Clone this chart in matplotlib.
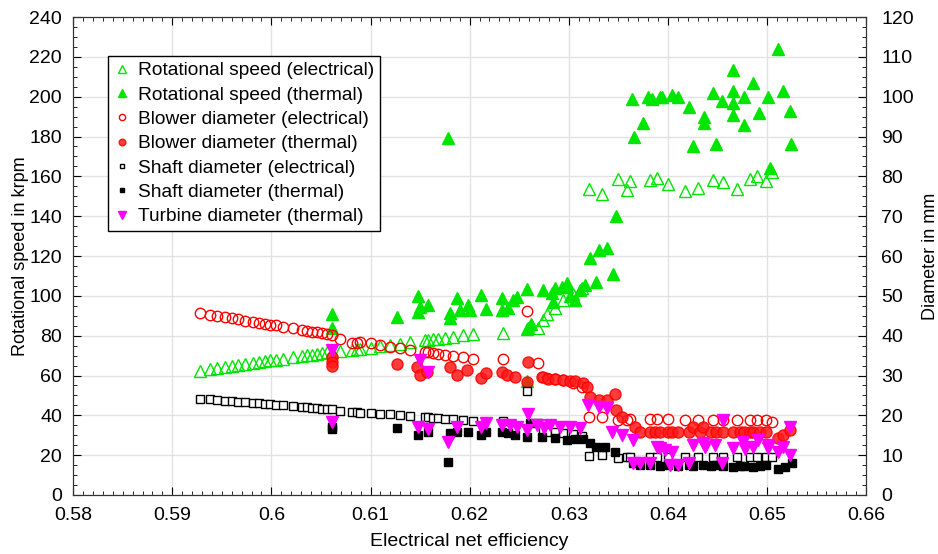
import matplotlib
matplotlib.use('Agg')
import matplotlib.pyplot as plt
from matplotlib.ticker import MultipleLocator, FuncFormatter

plt.rcParams['font.family'] = ['Liberation Sans', 'DejaVu Sans']
plt.rcParams['font.size'] = 14

# electrical design points (x = electrical net efficiency)
eff_el = [0.5928, 0.5938, 0.5945, 0.5953, 0.5960, 0.5966, 0.5973, 0.5981, 0.5987, 0.5994,
          0.5999, 0.6005, 0.6012, 0.6022, 0.6031, 0.6036, 0.6041, 0.6046, 0.6051, 0.6056,
          0.6061, 0.6069, 0.6081, 0.6086, 0.6089, 0.6100, 0.6110, 0.6120, 0.6130, 0.6140,
          0.6155, 0.6158, 0.6163, 0.6168, 0.6175, 0.6183, 0.6193, 0.6203, 0.6234, 0.6258,
          0.6269, 0.6274, 0.6278, 0.6286, 0.6294, 0.6304, 0.6313, 0.6320, 0.6334, 0.6350,
          0.6359, 0.6362, 0.6382, 0.6389, 0.6400, 0.6417, 0.6430, 0.6445, 0.6456, 0.6470,
          0.6483, 0.6490, 0.6499, 0.6505]
speed_el = [62.5, 63.3, 63.8, 64.4, 64.9, 65.3, 65.8, 66.3, 66.7, 67.2,
            67.6, 68.0, 68.5, 69.2, 69.8, 70.2, 70.5, 70.9, 71.2, 71.6,
            71.9, 72.5, 73.0, 73.3, 73.4, 73.9, 74.6, 75.3, 75.9, 76.6,
            77.6, 77.8, 78.2, 78.5, 79.0, 79.5, 80.2, 81.0, 81.4, 83.5,
            84.0, 88.0, 91.0, 94.0, 98.0, 101.0, 104.0, 153.6, 151.0, 158.5,
            153.0, 157.7, 158.0, 159.0, 156.0, 152.7, 154.0, 158.0, 157.0, 153.7,
            158.7, 160.0, 157.5, 162.0]
blower_el = [45.7, 45.3, 45.0, 44.7, 44.4, 44.1, 43.8, 43.5, 43.3, 43.0,
             42.8, 42.6, 42.3, 41.8, 41.5, 41.2, 41.0, 40.8, 40.6, 40.4,
             40.2, 39.2, 38.2, 38.2, 38.3, 38.2, 37.6, 37.2, 36.9, 36.4,
             35.9, 35.8, 35.6, 35.4, 35.2, 35.0, 34.7, 34.2, 34.2, 46.2,
             33.1, 29.7, 29.4, 29.2, 28.9, 28.1, 27.1, 19.6, 19.6, 18.9,
             18.9, 19.0, 19.1, 19.0, 19.1, 18.8, 18.8, 18.8, 18.9, 18.8,
             18.8, 18.9, 18.9, 18.3]
shaft_el = [24.1, 24.0, 23.9, 23.7, 23.6, 23.4, 23.3, 23.1, 23.0, 22.9,
            22.8, 22.6, 22.5, 22.3, 22.1, 22.0, 21.9, 21.8, 21.7, 21.6,
            21.5, 21.2, 20.9, 20.8, 20.7, 20.6, 20.4, 20.3, 20.1, 19.9,
            19.6, 19.5, 19.4, 19.3, 19.2, 19.0, 18.8, 18.6, 18.6, 26.1,
            18.1, 16.3, 15.9, 15.8, 15.6, 15.3, 14.8, 9.8, 10.0, 9.3,
            9.5, 9.6, 9.5, 9.5, 9.5, 9.6, 9.5, 9.6, 9.5, 9.5,
            9.6, 9.5, 9.6, 9.5]

# thermal design points
eff_th_speed = [0.6061, 0.6061, 0.6127, 0.6148, 0.6148, 0.6150, 0.6158, 0.6178, 0.6180, 0.6180,
                0.6187, 0.6190, 0.6198, 0.6200, 0.6211, 0.6216, 0.6233, 0.6233, 0.6239, 0.6244,
                0.6248, 0.6258, 0.6258, 0.6259, 0.6262, 0.6274, 0.6283, 0.6284, 0.6286, 0.6293,
                0.6298, 0.6298, 0.6301, 0.6306, 0.6311, 0.6316, 0.6327, 0.6321, 0.6330, 0.6339,
                0.6345, 0.6348, 0.6366, 0.6375, 0.6364, 0.6380, 0.6384, 0.6392, 0.6394, 0.6404,
                0.6410, 0.6421, 0.6425, 0.6436, 0.6436, 0.6446, 0.6449, 0.6455, 0.6466, 0.6466,
                0.6466, 0.6466, 0.6477, 0.6477, 0.6486, 0.6492, 0.6501, 0.6503, 0.6511, 0.6516,
                0.6523, 0.6524]
speed_th = [91, 84, 89.5, 100, 92, 94.5, 95.5, 179, 91.4, 89,
            99, 93, 95.5, 93, 100.5, 93.4, 99, 93, 94, 98,
            99.5, 103.5, 57, 84, 86, 103, 101.5, 97, 104, 104.5,
            104.5, 106.5, 100, 98, 103, 105.5, 107, 119, 123, 124,
            111, 140, 180, 187, 199, 200, 199, 200, 200, 201,
            200, 195, 175, 190, 187, 202, 176, 198, 213.5, 203,
            197, 191, 200, 186, 207, 192, 200, 164, 224, 203,
            193, 176]

eff_th_blower = [0.6061, 0.6061, 0.6061, 0.6127, 0.6147, 0.6150, 0.6157, 0.6180, 0.6187, 0.6197,
                 0.6211, 0.6216, 0.6233, 0.6238, 0.6246, 0.6259, 0.6258, 0.6273, 0.6279, 0.6286,
                 0.6294, 0.6301, 0.6306, 0.6314, 0.6318, 0.6321, 0.6330, 0.6339, 0.6347, 0.6348,
                 0.6354, 0.6367, 0.6372, 0.6382, 0.6387, 0.6392, 0.6400, 0.6404, 0.6410, 0.6421,
                 0.6425, 0.6432, 0.6435, 0.6443, 0.6449, 0.6456, 0.6466, 0.6473, 0.6477, 0.6483,
                 0.6486, 0.6493, 0.6499, 0.6511, 0.6516, 0.6523]
blower_th = [34.7, 33.5, 32.4, 32.9, 32.1, 30.1, 30.9, 32.1, 30.1, 31.4,
             29.4, 30.6, 30.9, 30.1, 29.6, 33.4, 28.4, 29.6, 29.0, 29.2,
             28.9, 28.5, 28.5, 28.0, 27.0, 24.5, 23.9, 23.9, 25.4, 21.4,
             19.6, 17.1, 15.8, 15.9, 15.8, 15.9, 15.7, 15.9, 15.8, 15.8,
             17.1, 15.9, 17.1, 15.8, 15.9, 15.7, 15.9, 15.8, 15.7, 15.9,
             15.8, 15.8, 15.9, 14.3, 15.0, 16.3]

eff_th_shaft = [0.6061, 0.6061, 0.6127, 0.6148, 0.6158, 0.6178, 0.6180, 0.6187, 0.6198, 0.6211,
                0.6216, 0.6233, 0.6239, 0.6246, 0.6258, 0.6261, 0.6273, 0.6286, 0.6298, 0.6306,
                0.6314, 0.6321, 0.6327, 0.6337, 0.6347, 0.6365, 0.6372, 0.6382, 0.6392, 0.6400,
                0.6410, 0.6421, 0.6425, 0.6435, 0.6443, 0.6449, 0.6456, 0.6466, 0.6473, 0.6477,
                0.6486, 0.6493, 0.6499, 0.6511, 0.6518, 0.6525]
shaft_th = [17.1, 16.5, 16.8, 15.0, 15.8, 8.3, 15.5, 15.8, 15.8, 15.0,
            15.8, 15.8, 15.6, 15.0, 14.5, 18.1, 14.5, 14.3, 13.8, 14.0,
            14.0, 13.0, 12.0, 12.0, 10.8, 8.0, 7.5, 7.6, 7.4, 7.5,
            7.4, 7.6, 7.2, 7.5, 7.4, 7.6, 7.3, 7.0, 7.4, 7.2,
            7.0, 7.4, 7.5, 6.5, 7.0, 8.0]

eff_th_turbine = [0.6061, 0.6061, 0.6150, 0.6158, 0.6148, 0.6158, 0.6178, 0.6187, 0.6211, 0.6216,
                  0.6233, 0.6241, 0.6248, 0.6259, 0.6258, 0.6268, 0.6275, 0.6281, 0.6291, 0.6301,
                  0.6311, 0.6319, 0.6330, 0.6339, 0.6344, 0.6354, 0.6365, 0.6365, 0.6372, 0.6382,
                  0.6389, 0.6392, 0.6397, 0.6404, 0.6402, 0.6410, 0.6421, 0.6425, 0.6435, 0.6437,
                  0.6448, 0.6455, 0.6456, 0.6466, 0.6476, 0.6478, 0.6486, 0.6491, 0.6501, 0.6501,
                  0.6511, 0.6516, 0.6523, 0.6523]
turbine_th = [36.4, 18.3, 33.9, 30.9, 17.1, 16.5, 13.3, 17.0, 17.0, 18.1,
              17.5, 17.5, 17.0, 20.4, 16.3, 17.6, 16.9, 17.5, 17.0, 17.1,
              16.8, 22.6, 22.1, 21.9, 15.8, 15.1, 13.8, 8.0, 8.0, 8.0,
              12.0, 11.8, 11.3, 10.8, 7.5, 7.5, 8.0, 12.6, 13.1, 12.0,
              12.6, 8.0, 18.8, 11.8, 13.3, 11.5, 12.0, 13.8, 12.6, 11.8,
              10.8, 12.0, 17.1, 10.0]

green = '#00e600'

fig = plt.figure(figsize=(9.38, 5.54), dpi=100)
ax = fig.add_axes([0.078, 0.1065, 0.8454, 0.8628])
ax2 = ax.twinx()

h1, = ax.plot(eff_el, speed_el, ls='none', marker='^', ms=8.5, mfc='none', mec=green, mew=1.0,
              label='Rotational speed (electrical)')
h2, = ax.plot(eff_th_speed, speed_th, ls='none', marker='^', ms=9, mfc=green, mec=green,
              label='Rotational speed (thermal)')
h3, = ax2.plot(eff_el, blower_el, ls='none', marker='o', ms=7.5, mfc='none', mec='red', mew=1.0,
               label='Blower diameter (electrical)')
h4, = ax2.plot(eff_th_blower, blower_th, ls='none', marker='o', ms=8, mfc='#ff1a1a', mec='red',
               alpha=0.85, label='Blower diameter (thermal)')
h5, = ax2.plot(eff_el, shaft_el, ls='none', marker='s', ms=5.5, mfc='white', mec='black', mew=1.0,
               label='Shaft diameter (electrical)')
h6, = ax2.plot(eff_th_shaft, shaft_th, ls='none', marker='s', ms=6, mfc='black', mec='black',
               label='Shaft diameter (thermal)')
h7, = ax2.plot(eff_th_turbine, turbine_th, ls='none', marker='v', ms=8.5, mfc='#ff00ff', mec='#ff00ff',
               label='Turbine diameter (thermal)')

ax.set_xlim(0.58, 0.66)
ax.set_ylim(0, 240)
ax2.set_ylim(0, 120)
ax.xaxis.set_major_locator(MultipleLocator(0.01))
ax.xaxis.set_minor_locator(MultipleLocator(0.001))
ax.xaxis.set_major_formatter(FuncFormatter(lambda v, p: '%g' % round(v, 2)))
ax.yaxis.set_major_locator(MultipleLocator(20))
ax.yaxis.set_minor_locator(MultipleLocator(5))
ax2.yaxis.set_major_locator(MultipleLocator(10))
ax2.yaxis.set_minor_locator(MultipleLocator(2.5))

ax.tick_params(which='both', direction='in', top=True, right=False, labelsize=14)
ax.tick_params(which='major', length=6)
ax.tick_params(which='minor', length=3)
ax.tick_params(axis='x', which='major', pad=9)
ax.tick_params(axis='y', which='major', pad=8)
ax2.tick_params(which='both', direction='in', labelsize=14)
ax2.tick_params(which='major', length=6, pad=11)
ax2.tick_params(which='minor', length=3)

ax.grid(True, which='major', color='#e2e2e2', linewidth=1.0)
ax.set_axisbelow(True)
for s in ax.spines.values():
    s.set_color('#333333')
for s in ax2.spines.values():
    s.set_color('#333333')

ax.set_xlabel('Electrical net efficiency', fontsize=14, labelpad=6)
ax.set_ylabel('Rotational speed in krpm', fontsize=13, labelpad=0)
ax2.set_ylabel('Diameter in mm', fontsize=13, labelpad=6)

leg = ax2.legend(handles=[h1, h2, h3, h4, h5, h6, h7], loc='upper left',
                 bbox_to_anchor=(0.044, 0.918), fontsize=13.8, markerscale=0.6,
                 frameon=True, fancybox=False, edgecolor='black', framealpha=1,
                 handlelength=0.9, handletextpad=0.35, labelspacing=0.36, borderpad=0.3,
                 borderaxespad=0)
leg.get_frame().set_linewidth(1.0)

fig.savefig('out.png', dpi=100)
